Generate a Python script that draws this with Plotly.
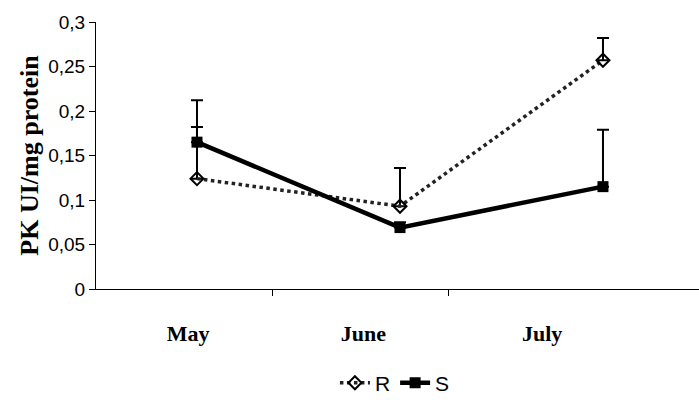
import plotly.graph_objects as go

months = ["May", "June", "July"]
month_pos = [0, 1, 2]

r_values = [0.124, 0.093, 0.257]
r_err_plus = [0.058, 0.043, 0.025]

s_values = [0.165, 0.069, 0.115]
s_err_plus = [0.047, 0.006, 0.064]

y_ticks = [0, 0.05, 0.1, 0.15, 0.2, 0.25, 0.3]
y_tick_text = ["0", "0,05", "0,1", "0,15", "0,2", "0,25", "0,3"]

x_range = [-0.4975, 2.473]
label_pos = [-0.044, 0.82, 1.70]
boundary_ticks = [0.374, 1.24]

fig = go.Figure()

fig.add_trace(go.Scatter(
    x=month_pos, y=r_values, name="R", mode="lines+markers",
    line=dict(color="#222222", width=3.5, dash="dot"),
    marker=dict(symbol="diamond-open", size=10, color="black", line=dict(width=2, color="black")),
    error_y=dict(type="data", symmetric=False, array=r_err_plus,
                 arrayminus=[0, 0, 0], color="black", thickness=2, width=6),
))

fig.add_trace(go.Scatter(
    x=month_pos, y=s_values, name="S", mode="lines+markers",
    line=dict(color="black", width=4.5),
    marker=dict(symbol="square", size=11, color="black"),
    error_y=dict(type="data", symmetric=False, array=s_err_plus,
                 arrayminus=[0, 0, 0], color="black", thickness=2, width=6),
))

fig.update_layout(
    width=699, height=402,
    margin=dict(l=96, r=0, t=22, b=113),
    paper_bgcolor="white", plot_bgcolor="white",
    showlegend=True,
    legend=dict(orientation="h", xref="container", yref="container",
                x=0.565, y=0.047, xanchor="center", yanchor="middle",
                font=dict(family="Liberation Sans, Arial", size=21, color="black"),
                itemwidth=30, tracegroupgap=0),
    xaxis=dict(range=x_range, tickmode="array", tickvals=label_pos,
               ticktext=["<b>%s</b>" % m for m in months],
               ticks="outside", ticklen=25, tickcolor="rgba(0,0,0,0)",
               tickfont=dict(family="Liberation Serif, Times New Roman", size=22, color="black"),
               minor=dict(tickmode="array", tickvals=boundary_ticks, ticks="outside",
                          ticklen=6, tickcolor="black", showgrid=False),
               showline=True, linecolor="black", linewidth=1,
               showgrid=False, zeroline=False, fixedrange=True),
    yaxis=dict(range=[0, 0.3], tickmode="array", tickvals=y_ticks, ticktext=y_tick_text,
               ticks="outside", ticklen=6, tickcolor="black",
               tickfont=dict(family="Liberation Sans, Arial", size=19, color="black"),
               showline=True, linecolor="black", linewidth=1,
               showgrid=False, zeroline=False,
               title=dict(text="<b>PK UI/mg protein</b>",
                          font=dict(family="Liberation Serif, Times New Roman", size=26, color="black"),
                          standoff=2)),
)

fig.write_html("out.html")
